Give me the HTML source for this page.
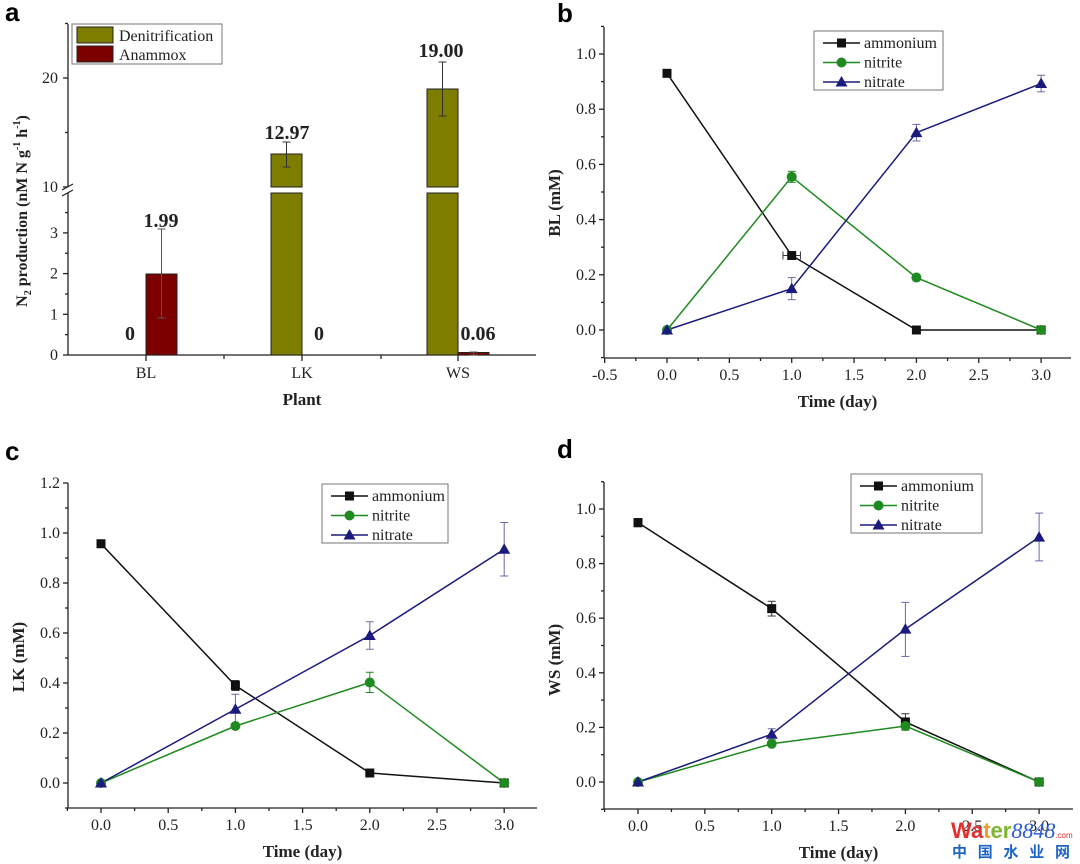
<!DOCTYPE html>
<html><head><meta charset="utf-8">
<style>
html,body{margin:0;padding:0;background:#fff;}
svg{display:block;}
text{font-family:"Liberation Serif",serif;fill:#222;}
.b{font-weight:bold;}
.sans{font-family:"Liberation Sans",sans-serif;font-weight:bold;fill:#000;}
</style></head>
<body>
<svg id="s" width="1080" height="864" viewBox="0 0 1080 864" xmlns="http://www.w3.org/2000/svg"></svg>
<script>
const S=document.getElementById('s');let h='';
function L(x1,y1,x2,y2,c,w){h+=`<line x1="${x1}" y1="${y1}" x2="${x2}" y2="${y2}" stroke="${c||'#222'}" stroke-width="${w||1.3}"/>`;}
function T(x,y,t,o){o=o||{};h+=`<text x="${x}" y="${y}" font-size="${o.fs||15}" text-anchor="${o.a||'middle'}" ${o.cls?`class="${o.cls}"`:''} ${o.tr?`transform="${o.tr}"`:''} ${o.fill?`fill="${o.fill}" style="fill:${o.fill}"`:''}>${t}</text>`;}
function R(x,y,w,hh,f,st){h+=`<rect x="${x}" y="${y}" width="${w}" height="${hh}" fill="${f}" stroke="${st||'none'}" stroke-width="1"/>`;}
const BK='#111',GR='#1f8a1f',BL='#1b1b7e';
function marker(t,x,y,c){
 if(t==0)R(x-4.5,y-4.5,9,9,c);
 else if(t==1)h+=`<circle cx="${x}" cy="${y}" r="5" fill="${c}"/>`;
 else h+=`<polygon points="${x},${y-6} ${x+6},${y+4.5} ${x-6},${y+4.5}" fill="${c}"/>`;
}
function eb(x,y1,y2,c){L(x,y1,x,y2,c,1);L(x-4,y1,x+4,y1,c,1);L(x-4,y2,x+4,y2,c,1);}

// line panel
function panel(p){
 const X=v=>p.x0+v*p.sx, Y=v=>p.y0-v*p.sy;
 // axes
 L(p.ax,p.top,p.ax,p.bot);L(p.ax,p.bot,p.right,p.bot);
 // y ticks
 for(let i=Math.round(p.ymin*10);i<=Math.round(p.ymax*10);i++){const v=i/10,y=Y(v);
  if(y<p.top-1||y>p.bot+1)continue;
  const major=i%2==0;L(p.ax-(major?5:3),y,p.ax,y);
  if(major&&i>=0)T(p.ax-8,y+5,v.toFixed(1),{a:'end',fs:16});}
 // x ticks
 for(let i=p.xstart*4;i<=12;i++){const v=i/4,x=X(v);if(x<p.ax-1)continue;
  const major=i%2==0;L(x,p.bot,x,p.bot+(major?5:3));
  if(major)T(x,p.bot+22,v.toFixed(1),{fs:16});}
 T((p.ax+p.right)/2,p.bot+49,'Time (day)',{cls:'b',fs:17});
 T(0,0,p.ylab,{cls:'b',fs:17,tr:`translate(${p.ax-44},${p.ymid}) rotate(-90)`});
 T(p.lx,p.ly,p.letter,{cls:'sans',fs:26,a:'start'});
 const cols=[BK,GR,BL];
 // error bars
 p.err.forEach(e=>{eb(X(e[0]),Y(e[1]),Y(e[2]),e[3]);});
 if(p.xerr){const e=p.xerr;L(X(e[0]),Y(e[2]),X(e[1]),Y(e[2]),'#333',1);L(X(e[0]),Y(e[2])-4,X(e[0]),Y(e[2])+4,'#333',1);L(X(e[1]),Y(e[2])-4,X(e[1]),Y(e[2])+4,'#333',1);}
 p.data.forEach((d,k)=>{let pts=d.map((v,i)=>X(i)+','+Y(v)).join(' ');
  h+=`<polyline points="${pts}" fill="none" stroke="${cols[k]}" stroke-width="1.5"/>`;});
 p.data.forEach((d,k)=>d.forEach((v,i)=>marker(k,X(i),Y(v),cols[k])));
 // legend
 const g=p.leg;R(g[0],g[1],g[2],g[3],'#fff','#777');
 ['ammonium','nitrite','nitrate'].forEach((n,k)=>{const y=g[1]+12+k*19.5;
  L(g[0]+9,y,g[0]+46,y,cols[k],1.5);marker(k,g[0]+27.5,y,cols[k]);T(g[0]+50,y+5,n,{a:'start',fs:16});});
}

// Panel b
panel({ax:604,top:27,bot:358,right:1071,x0:667,sx:124.7,y0:330,sy:276,ymin:-0.1,ymax:1.1,xstart:-2,
 ylab:'BL (mM)',ymid:203,letter:'b',lx:557,ly:22,leg:[814,31,129,59],
 data:[[0.93,0.27,0,0],[0,0.555,0.19,0],[0,0.15,0.715,0.893]],
 err:[[1,0.575,0.535,GR],[1,0.19,0.11,'#6a6aa8'],[2,0.745,0.685,'#6a6aa8'],[3,0.923,0.863,'#6a6aa8']],
 xerr:[0.93,1.07,0.27]});
// Panel c
panel({ax:68,top:483,bot:808,right:537,x0:101,sx:134.4,y0:783,sy:250,ymin:-0.1,ymax:1.2,xstart:-1,
 ylab:'LK (mM)',ymid:657,letter:'c',lx:5,ly:460,leg:[322,484,126,59],
 data:[[0.957,0.39,0.04,0],[0,0.228,0.402,0],[0,0.295,0.59,0.935]],
 err:[[1,0.41,0.37,'#333'],[1,0.355,0.235,'#6a6aa8'],[2,0.443,0.362,GR],[2,0.645,0.535,'#6a6aa8'],[3,1.042,0.828,'#6a6aa8']]});
// Panel d
panel({ax:604,top:482,bot:809,right:1073,x0:638,sx:133.7,y0:782,sy:273,ymin:-0.1,ymax:1.1,xstart:-1,
 ylab:'WS (mM)',ymid:660,letter:'d',lx:557,ly:458,leg:[851,474,131,59],
 data:[[0.95,0.635,0.22,0],[0,0.14,0.205,0],[0,0.175,0.56,0.897]],
 err:[[0,0.965,0.935,'#333'],[1,0.662,0.608,'#333'],[2,0.25,0.19,'#333'],[1,0.195,0.155,'#6a6aa8'],[2,0.658,0.46,'#6a6aa8'],[3,0.985,0.81,'#6a6aa8']]});

// Panel a
(function(){
 const ax=68,bot=355,right=536;
 const YL=v=>355-v*40.7, YU=v=>187-(v-10)*10.9;
 L(ax,24,ax,187);L(ax,193,ax,bot);L(ax,bot,right,bot);
 L(ax-6,190,ax+5,184,'#222',1.2);L(ax-6,196,ax+5,190,'#222',1.2);
 [0,1,2,3].forEach(v=>{L(ax-5,YL(v),ax,YL(v));T(ax-10,YL(v)+5,v,{a:'end',fs:16});});
 [0.5,1.5,2.5,3.5].forEach(v=>L(ax-3,YL(v),ax,YL(v)));
 [10,20].forEach(v=>{L(ax-5,YU(v),ax,YU(v));T(ax-10,YU(v)+5,v,{a:'end',fs:16});});
 [15,25].forEach(v=>L(ax-3,YU(v),ax,YU(v)));
 [146,302,458].forEach((x,i)=>{L(x,bot,x,bot+6);T(x,378,['BL','LK','WS'][i],{fs:16});});
 [224,381].forEach(x=>L(x,bot,x,bot+4));
 const OL='#7f7d00',DR='#7d0000';
 // BL anammox
 R(146,274,31,81,DR,'#222');
 // LK denit broken
 R(271,154,31,33,OL,'#222');R(271,193,31,162,OL,'#222');
 R(427,89,31,98,OL,'#222');R(427,193,31,162,OL,'#222');
 R(458,352.5,31,2.5,DR,'#222');
 eb(161.5,229,318,'#555');eb(286.5,142,167,'#333');eb(442.5,62,116,'#333');eb(473.5,352,355,'#555');
 T(161,227,'1.99',{cls:'b',fs:20});T(130,340,'0',{cls:'b',fs:20});T(287,139,'12.97',{cls:'b',fs:20});
 T(319,340,'0',{cls:'b',fs:20});T(441,57,'19.00',{cls:'b',fs:20});T(478,340,'0.06',{cls:'b',fs:20});
 R(72,24,150,40,'#fff','#777');
 R(77,27,36,16,OL,'#222');R(77,46,36,16,DR,'#222');
 T(119,41,'Denitrification',{a:'start',fs:16});T(119,60,'Anammox',{a:'start',fs:16});
 T(302,405,'Plant',{cls:'b',fs:17});
 h+=`<text class="b" font-size="16" text-anchor="middle" transform="translate(27,211) rotate(-90)">N<tspan font-size="10" dy="4">2</tspan><tspan dy="-4"> production (nM N g</tspan><tspan font-size="10" dy="-7">-1</tspan><tspan dy="7"> h</tspan><tspan font-size="10" dy="-7">-1</tspan><tspan dy="7">)</tspan></text>`;
 T(5,21,'a',{cls:'sans',fs:26,a:'start'});
})();

// watermark
h+=`<text x="951" y="838" font-size="22" style="font-family:'Liberation Sans',sans-serif;font-weight:bold"><tspan style="fill:#e03030">Wa</tspan><tspan style="fill:#f0a020">t</tspan><tspan style="fill:#7cb82f">er</tspan><tspan style="fill:#2a5bd0;font-family:'Liberation Serif',serif;font-style:italic;font-weight:normal">8848</tspan><tspan font-size="8" style="fill:#e03030;font-weight:normal">.com</tspan></text>`;
h+=`<text x="952" y="857" font-size="15" textLength="118" style="font-family:'Noto Sans CJK SC',sans-serif;font-weight:bold;fill:#1e64c8">中 国 水 业 网</text>`;
S.innerHTML=h;
</script>
</body></html>
